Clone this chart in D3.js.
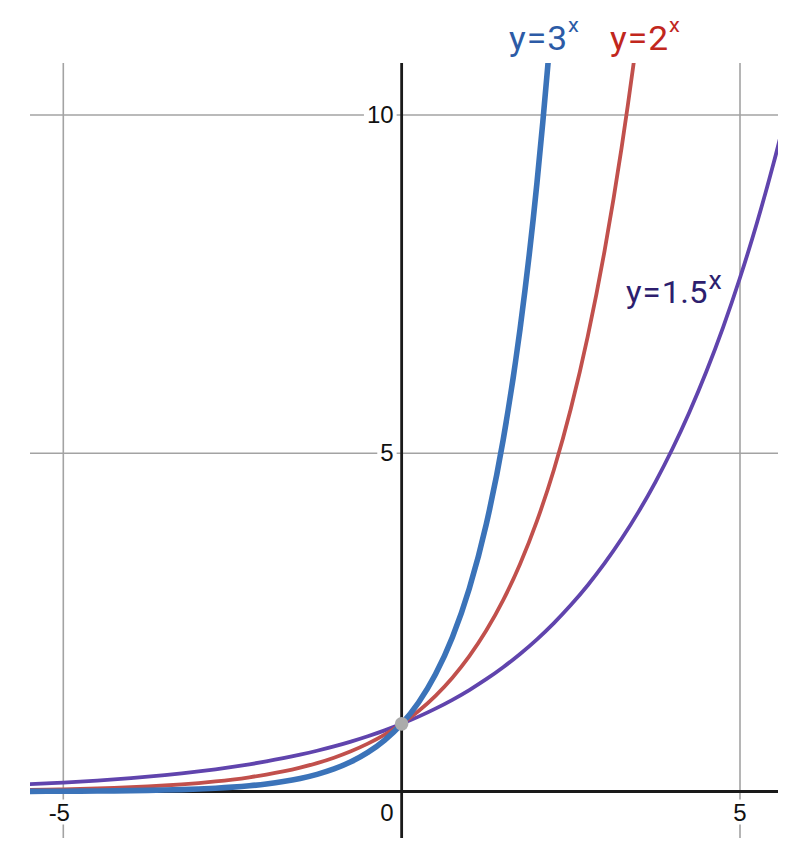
<!DOCTYPE html>
<html>
<head>
<meta charset="utf-8">
<script src="https://cdn.jsdelivr.net/npm/d3@7/dist/d3.min.js"></script>
<style>
  html, body { margin: 0; padding: 0; background: #fff; }
  svg { display: block; }
</style>
</head>
<body>
<script>
// ---- Data ----
const xs = [-5.75,-5.5,-5.25,-5,-4.75,-4.5,-4.25,-4,-3.75,-3.5,-3.25,-3,-2.75,-2.5,-2.25,-2,-1.75,-1.5,-1.25,-1,-0.75,-0.5,-0.25,0,0.25,0.5,0.75,1,1.25,1.5,1.75,2,2.25,2.5,2.75,3,3.25,3.5,3.75,4,4.25,4.5,4.75,5,5.25,5.5,5.75];
const y3 = [0.001805,0.002376,0.003127,0.004115,0.005416,0.007128,0.009381,0.012346,0.016248,0.021383,0.028143,0.037037,0.048744,0.06415,0.084427,0.111111,0.146232,0.19245,0.253284,0.333333,0.438691,0.57735,0.759836,1,1.316074,1.732051,2.279507,3,3.948222,5.196152,6.838521,9,11.844666,15.588457,null,null,null,null,null,null,null,null,null,null,null,null,null];
const y2 = [0.018581,0.022097,0.026278,0.03125,0.037163,0.044194,0.052556,0.0625,0.074325,0.088388,0.105112,0.125,0.148651,0.176777,0.210224,0.25,0.297302,0.353553,0.420448,0.5,0.594604,0.707107,0.840896,1,1.189207,1.414214,1.681793,2,2.378414,2.828427,3.363586,4,4.756828,5.656854,6.727171,8,9.513657,11.313708,13.454343,null,null,null,null,null,null,null,null];
const y15 = [0.097157,0.107522,0.118993,0.131687,0.145736,0.161283,0.178489,0.197531,0.218604,0.241925,0.267734,0.296296,0.327906,0.362887,0.401601,0.444444,0.491859,0.544331,0.602401,0.666667,0.737788,0.816497,0.903602,1,1.106682,1.224745,1.355403,1.5,1.660023,1.837117,2.033105,2.25,2.490034,2.755676,3.049658,3.375,3.735051,4.133514,4.574487,5.0625,5.602577,6.200271,6.86173,7.59375,8.403865,9.300406,10.292595];
const xTicks = [-5, 0, 5];
const xTickLabels = ["-5", "0", "5"];
const yTicks = [5, 10];
const yTickLabels = ["5", "10"];
const pointX = [0];
const pointY = [1];

// ---- Layout ----
const W = 798, H = 852;
const L = 30, R = 778, T = 63, B = 838;
const x = d3.scaleLinear().domain([-5, 5]).range([63.3, 740]);
const y = d3.scaleLinear().domain([0, 10]).range([791.5, 115]);

const svg = d3.select("body").append("svg").attr("width", W).attr("height", H);

svg.append("defs").append("clipPath").attr("id", "plot")
  .append("rect").attr("x", L).attr("y", T).attr("width", R - L).attr("height", B - T);

// gridlines
const gridColor = "#a3a3a3";
svg.append("g").selectAll("line").data(xTicks.filter(d => d !== 0)).join("line")
  .attr("x1", d => x(d)).attr("x2", d => x(d)).attr("y1", T).attr("y2", B)
  .attr("stroke", gridColor).attr("stroke-width", 1.6);
svg.append("g").selectAll("line").data(yTicks).join("line")
  .attr("x1", L).attr("x2", R).attr("y1", d => y(d)).attr("y2", d => y(d))
  .attr("stroke", gridColor).attr("stroke-width", 1.6);

// tick labels with white backgrounds
const tickFont = "'Liberation Sans', Arial, sans-serif";
const labG = svg.append("g");
function tickLabel(tx, ty, text, anchor) {
  const g = labG.append("g");
  const t = g.append("text").attr("x", tx).attr("y", ty).attr("text-anchor", anchor)
    .attr("font-family", tickFont).attr("font-size", 24).attr("fill", "#111").text(text);
  const bb = t.node().getBBox();
  g.insert("rect", "text").attr("x", bb.x - 3).attr("y", bb.y + 1).attr("width", bb.width + 6).attr("height", bb.height - 2).attr("fill", "#fff");
}
yTicks.forEach((d, i) => tickLabel(x(0) - 8, y(d) + 8, yTickLabels[i], "end"));
xTicks.forEach((d, i) => {
  if (d === 0) tickLabel(x(0) - 8, y(0) + 29, xTickLabels[i], "end");
  else tickLabel(x(d) + (d < 0 ? -4 : 0), y(0) + 29, xTickLabels[i], "middle");
});

// axes
svg.append("line").attr("x1", L).attr("x2", R).attr("y1", y(0)).attr("y2", y(0))
  .attr("stroke", "#1a1a1a").attr("stroke-width", 2.8);
svg.append("line").attr("x1", x(0)).attr("x2", x(0)).attr("y1", T).attr("y2", B)
  .attr("stroke", "#1a1a1a").attr("stroke-width", 2.8);

// curves
const line = d3.line().defined(d => d[1] !== null)
  .x(d => x(d[0])).y(d => y(d[1])).curve(d3.curveMonotoneX);
const series = [
  { vals: y15, color: "#6044ad", w: 3.8 },
  { vals: y2, color: "#c1504c", w: 3.8 },
  { vals: y3, color: "#3b73b9", w: 5.6 }
];
const cg = svg.append("g").attr("clip-path", "url(#plot)");
series.forEach(s => {
  cg.append("path").datum(xs.map((v, i) => [v, s.vals[i]]))
    .attr("d", line).attr("fill", "none").attr("stroke", s.color)
    .attr("stroke-width", s.w).attr("stroke-linejoin", "round");
});

// point
svg.append("g").selectAll("circle").data(pointX).join("circle")
  .attr("cx", d => x(d)).attr("cy", (d, i) => y(pointY[i])).attr("r", 6.8).attr("fill", "#ababab");

// curve labels
const lf = "Roboto, 'Noto Sans', sans-serif";
function curveLabel(px, py, base, color, size, sx, supSize, supDx, supDy) {
  const g = svg.append("g").attr("transform", `translate(${px},${py}) scale(${sx},1)`);
  const t = g.append("text").attr("font-family", lf).attr("font-size", size).attr("fill", color);
  t.append("tspan").text("y");
  t.append("tspan").attr("dx", 1).text("=");
  t.append("tspan").attr("dx", 1).text(base);
  t.append("tspan").attr("dx", supDx).attr("dy", supDy).attr("font-size", supSize).text("x");
}
curveLabel(509, 50, "3", "#2c5ba6", 34, 1.04, 21, 1, -18);
curveLabel(610, 50, "2", "#c1271d", 34, 1.04, 21, 1, -18);
curveLabel(626, 303, "1.5", "#2d1e6e", 32, 1.03, 26, 1, -14);
</script>
</body>
</html>
